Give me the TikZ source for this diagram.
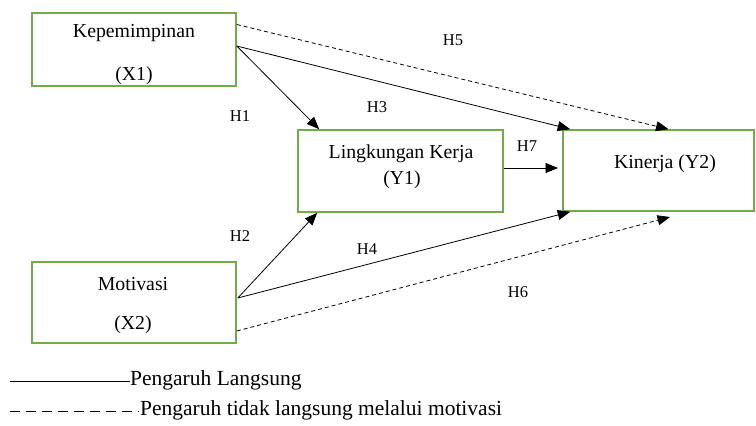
\documentclass[tikz,border=0pt]{standalone}
\usepackage{fontspec}
\setmainfont{Liberation Serif}
\newfontfamily\tnr{Liberation Serif}
\usetikzlibrary{arrows.meta}
\begin{document}
\begin{tikzpicture}[x=1pt,y=-1pt,
  box/.style={draw=boxgreen,line width=1.6pt,inner sep=0pt},
  boxtxt/.style={font=\tnr\fontsize{19.8}{20}\selectfont,inner sep=0pt},
  hlab/.style={font=\tnr\fontsize{16.5}{18}\selectfont,inner sep=0pt},
  legtxt/.style={font=\tnr\fontsize{21.5}{22}\selectfont,inner sep=0pt,anchor=west},
  conn/.style={line width=0.8pt,-{Triangle[length=12.5pt,width=10pt]}},
  dconn/.style={line width=0.8pt,dash pattern=on 4pt off 3pt,-{Triangle[length=12.5pt,width=10pt]}},
]
\definecolor{boxgreen}{HTML}{70AD47}
\useasboundingbox (0,0) rectangle (756,426);
% boxes
\node[box,minimum width=204pt,minimum height=73pt] (X1) at (134,49.5) {};
\node[box,minimum width=205pt,minimum height=82pt] (Y1) at (400.5,171) {};
\node[box,minimum width=191pt,minimum height=81pt] (Y2) at (658.5,170.5) {};
\node[box,minimum width=204pt,minimum height=81pt] (X2) at (134,302.5) {};
% box texts
\node[boxtxt] (t1a) at (134,33) {Kepemimpinan};
\node[boxtxt] (t1b) at (134,76) {(X1)};
\node[boxtxt] (t2a) at (401,154) {Lingkungan Kerja};
\node[boxtxt] (t2b) at (402,180) {(Y1)};
\node[boxtxt] (t3) at (665,164) {Kinerja (Y2)};
\node[boxtxt] (t4a) at (133,284) {Motivasi};
\node[boxtxt] (t4b) at (133,325) {(X2)};
% anchor points
\coordinate (x1s) at ([yshift=3.5pt]X1.east);
\coordinate (x1d) at ([yshift=25pt]X1.east);
\coordinate (x2s) at ([xshift=1pt,yshift=4.5pt]X2.east);
\coordinate (x2d) at ([yshift=-28.5pt]X2.east);
\coordinate (h7e) at (558,168);
\coordinate (h6e) at (670,217);
% connectors
\draw[conn] (x1s) -- ([xshift=22pt]Y1.north west);
\draw[conn] (x1s) -- ([xshift=8pt]Y2.north west);
\draw[dconn] (x1d) -- ([xshift=10pt]Y2.north);
\draw[conn] (Y1.east |- h7e) -- (h7e);
\draw[conn] (x2s) -- ([xshift=20pt]Y1.south west);
\draw[conn] (x2s) -- ([xshift=8pt]Y2.south west);
\draw[dconn] (x2d) -- (h6e);
% H labels
\node[hlab] (H1) at (240,116) {H1};
\node[hlab] (H2) at (240,236) {H2};
\node[hlab] (H3) at (377,107) {H3};
\node[hlab] (H4) at (367,249) {H4};
\node[hlab] (H5) at (453,40) {H5};
\node[hlab] (H6) at (518,292) {H6};
\node[hlab] (H7) at (527,146) {H7};
% legend
\coordinate (l1a) at (10,381);
\coordinate (l2a) at (10,411);
\node[legtxt] (L1) at (130,380) {Pengaruh Langsung};
\node[legtxt] (L2) at (140,410) {Pengaruh tidak langsung melalui motivasi};
\draw[line width=0.8pt] (l1a) -- (L1.west |- l1a);
\draw[line width=0.8pt,dash pattern=on 10pt off 6pt] (l2a) -- ([xshift=-1pt]L2.west |- l2a);
\end{tikzpicture}
\end{document}
